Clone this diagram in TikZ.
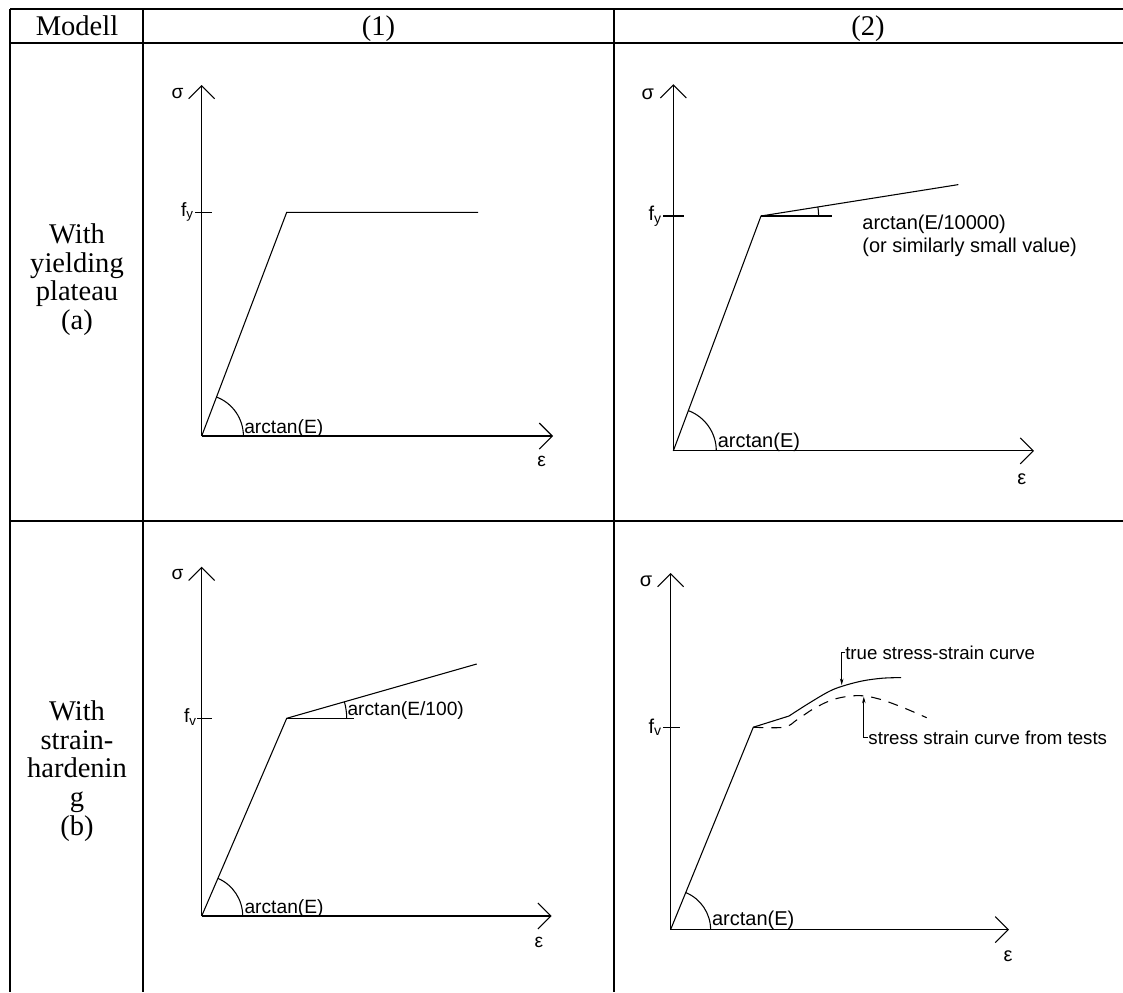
\documentclass[tikz,border=0pt]{standalone}
\usepackage{fontspec}
\setmainfont{Liberation Serif}
\newfontfamily\labfont{Liberation Sans}
\usetikzlibrary{arrows.meta}
\tikzset{
  tbl/.style={line width=1.5pt},
  gline/.style={line width=0.8pt},
  axis/.style={gline,-{Straight Barb[length=9.75pt,width=19.5pt,line width=0.8pt]}},
  lbl/.style={font=\labfont\fontsize{14.4}{16}\selectfont, inner sep=0pt},
  lblb/.style={font=\labfont\fontsize{15}{17}\selectfont, inner sep=0pt},
  lbls/.style={font=\labfont\fontsize{14}{16}\selectfont, inner sep=0pt},
  hdr/.style={font=\fontsize{21.4}{21.5}\selectfont, inner sep=0pt},
  rowh/.style={font=\fontsize{21.4}{21.5}\selectfont, align=center, inner sep=0pt},
  lead/.style={line width=0.6pt, -{Stealth[length=5pt,width=2.6pt]}},
  testcurve/.style={gline, dash pattern=on 7.5pt off 6pt},
}
\begin{document}
\begin{tikzpicture}[x=0.75pt,y=-0.75pt]
\useasboundingbox (0,0) rectangle (1123,992);
% ---------------- table ----------------
\coordinate (TL) at (10,9.3);
\coordinate (TR) at (1123,9.3);
\coordinate (HL) at (10,43);
\coordinate (HR) at (1123,43);
\coordinate (RL) at (10,521);
\coordinate (RR) at (1123,521);
\coordinate (BL) at (10,992);
\coordinate (C1T) at (143,9.3);
\coordinate (C1B) at (143,992);
\coordinate (C2T) at (614,9.3);
\coordinate (C2B) at (614,992);
\draw[tbl] (TL) -- (TR);
\draw[tbl] (HL) -- (HR);
\draw[tbl] (RL) -- (RR);
\draw[tbl] (TL) -- (BL);
\draw[tbl] (C1T) -- (C1B);
\draw[tbl] (C2T) -- (C2B);
\node[hdr, anchor=base] (hm) at (77,35) {Modell};
\node[hdr, anchor=base] (h1) at (378.5,35) {(1)};
\node[hdr, anchor=base] (h2) at (868,35) {(2)};
\node[rowh] (rowa) at (77,279.5) {With\\yielding\\plateau\\(a)};
\node[rowh] (rowb) at (77,771) {With\\strain-\\hardenin\\g\\(b)};
% ---------------- panel (1a) ----------------
\coordinate (O1) at (201.7,436);
\coordinate (T1) at (201.7,85);
\coordinate (X1) at (553,436);
\coordinate (Y1) at (286.7,212.3);
\coordinate (P1) at (478,212.3);
\coordinate (k1a) at (195,212.3);
\coordinate (k1b) at (212,212.3);
\draw[axis] (O1) -- (T1);
\draw[axis] (O1) -- (X1);
\draw[gline] (O1) -- (Y1) -- (P1);
\draw[gline] (k1a) -- (k1b);
\draw[gline] (O1) ++(41.7,0) arc[start angle=0,end angle=-69.2,radius=41.7];
\node[lbl] (s1) at (177.5,93.8) {σ};
\node[lbl, anchor=base east] (f1) at (194,216) {f\textsubscript{y}};
\node[lbl, anchor=base west] (a1) at (244,433) {arctan(E)};
\node[lbl] (e1) at (541.7,461.7) {ε};
% ---------------- panel (2a) ----------------
\coordinate (O2) at (673.3,450.9);
\coordinate (T2) at (673.3,84.2);
\coordinate (X2) at (1033.9,450.9);
\coordinate (Y2) at (761,216);
\coordinate (P2) at (958.4,184.6);
\coordinate (H2) at (831.5,216);
\coordinate (k2a) at (663,216);
\coordinate (k2b) at (683.5,216);
\draw[axis] (O2) -- (T2);
\draw[axis] (O2) -- (X2);
\draw[gline] (O2) -- (Y2) -- (P2);
\draw[gline] (Y2) -- (H2);
\draw[gline] (k2a) -- (k2b);
\draw[gline] (O2) ++(43,0) arc[start angle=0,end angle=-69.5,radius=43];
\draw[gline] (Y2) ++(57.6,0) arc[start angle=0,end angle=-9.04,radius=57.6];
\node[lblb] (s2) at (647.8,94) {σ};
\node[lblb, anchor=base east] (f2) at (662,220.3) {f\textsubscript{y}};
\node[lblb, anchor=base west] (a2) at (717.5,447.5) {arctan(E)};
\node[lblb] (e2) at (1021.7,478.8) {ε};
\node[lblb, anchor=base west] (n2a) at (862.1,229.5) {arctan(E/10000)};
\node[lblb, anchor=base west] (n2b) at (862.1,252.6) {(or similarly small value)};
% ---------------- panel (1b) ----------------
\coordinate (O3) at (201.7,916);
\coordinate (T3) at (201.7,566.7);
\coordinate (X3) at (551.7,916);
\coordinate (Y3) at (286.7,718.3);
\coordinate (P3) at (476.7,664);
\coordinate (H3) at (354,718.3);
\coordinate (k3a) at (197,718.3);
\coordinate (k3b) at (212,718.3);
\draw[axis] (O3) -- (T3);
\draw[axis] (O3) -- (X3);
\draw[gline] (O3) -- (Y3) -- (P3);
\draw[gline] (Y3) -- (H3);
\draw[gline] (k3a) -- (k3b);
\draw[gline] (O3) ++(41,0) arc[start angle=0,end angle=-66.7,radius=41];
\draw[gline] (Y3) ++(60,0) arc[start angle=0,end angle=-15.95,radius=60];
\node[lbl] (s3) at (177.5,575) {σ};
\node[lbl, anchor=base east] (f3) at (197,722.7) {f\textsubscript{v}};
\node[lbl, anchor=base west] (n3) at (347.3,715) {arctan(E/100)};
\node[lbl, anchor=base west] (a3) at (244.3,913.3) {arctan(E)};
\node[lbl] (e3) at (539,942) {ε};
% ---------------- panel (2b) ----------------
\coordinate (O4) at (670.6,929.6);
\coordinate (T4) at (670.6,573);
\coordinate (X4) at (1009,929.6);
\coordinate (Y4) at (753.3,727.2);
\coordinate (K4) at (789,716);
\coordinate (k4a) at (663,727.2);
\coordinate (k4b) at (680,727.2);
\draw[axis] (O4) -- (T4);
\draw[axis] (O4) -- (X4);
\draw[gline] (O4) -- (Y4) -- (K4);
\draw[gline] (k4a) -- (k4b);
\draw[gline] (O4) ++(40,0) arc[start angle=0,end angle=-67.8,radius=40];
\draw[gline] plot[smooth, tension=0.6] coordinates {(789,716) (807.7,704) (828,692) (841.7,686.4) (862,681) (882.5,678.2) (901.2,677.6)};
\draw[testcurve] plot[smooth, tension=0.6] coordinates {(753.3,727.2) (783.9,727.2) (797.5,719.4) (814.5,708.2) (834.9,699) (858.7,695.6) (879.1,699) (902.9,707.5) (926.7,717.7)};
\node[lblb] (s4) at (646,581.6) {σ};
\node[lblb, anchor=base east] (f4) at (662,733) {f\textsubscript{v}};
\node[lblb, anchor=base west] (a4) at (711.8,925.9) {arctan(E)};
\node[lblb] (e4) at (1008,956) {ε};
\node[lbls, anchor=base west] (tt) at (845,659.2) {true stress-strain curve};
\node[lbls, anchor=base west] (st) at (868.2,744.2) {stress strain curve from tests};
\coordinate (tc) at (841.7,685.2);
\coordinate (dc) at (863.8,696.6);
\draw[lead] (tt.west) -| (tc);
\draw[lead] (st.west) -| (dc);
\end{tikzpicture}
\end{document}
